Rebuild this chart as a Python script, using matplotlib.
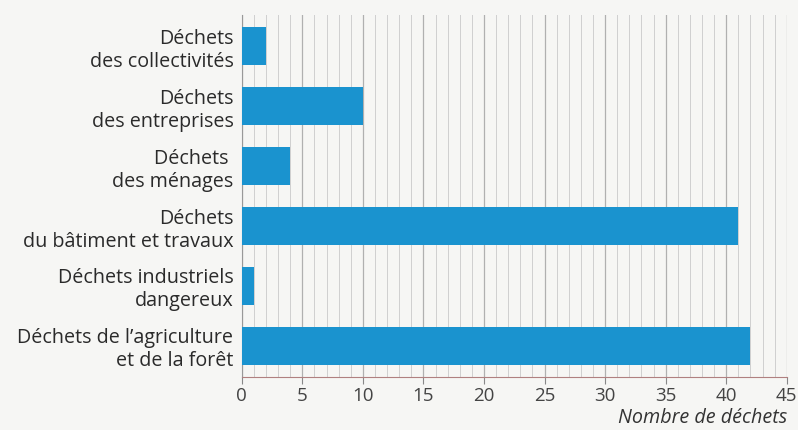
import matplotlib.pyplot as plt
from matplotlib.ticker import MultipleLocator

categories = ['Déchets\ndes collectivités', 'Déchets\ndes entreprises', 'Déchets \ndes ménages',
              'Déchets\ndu bâtiment et travaux', 'Déchets industriels\ndangereux',
              'Déchets de l\u2019agriculture\net de la forêt']
values = [2, 10, 4, 41, 1, 42]

plt.rcParams['font.family'] = ['Open Sans', 'DejaVu Sans']

fig = plt.figure(figsize=(7.98, 4.30), dpi=100)
fig.patch.set_facecolor('#f6f6f4')
ax = fig.add_axes([0.303, 0.123, 0.683, 0.842])
ax.set_facecolor('#f6f6f4')

ax.barh(range(len(categories)), values, height=0.63, color='#1a93cf', zorder=3)
ax.set_yticks(range(len(categories)))
ax.set_yticklabels(categories, fontsize=14.2, color='#2a2a2a', linespacing=1.2,
                   multialignment='right')
ax.set_ylim(5.52, -0.52)
ax.set_xlim(0, 45)
ax.xaxis.set_major_locator(MultipleLocator(5))
ax.xaxis.set_minor_locator(MultipleLocator(1))
ax.grid(axis='x', which='minor', color='#cfcfcf', linewidth=0.7, zorder=0)
ax.grid(axis='x', which='major', color='#b0b0b0', linewidth=0.9, zorder=0)
ax.tick_params(axis='y', length=0, pad=6)
ax.tick_params(axis='x', which='major', length=5, color='#888888', labelsize=13.5,
               labelcolor='#444444', pad=2)
ax.tick_params(axis='x', which='minor', length=0)
for s in ['top', 'right']:
    ax.spines[s].set_visible(False)
ax.spines['left'].set_color('#999999')
ax.spines['bottom'].set_color('#b08080')

fig.text(0.986, 0.005, 'Nombre de déchets', ha='right', va='bottom', fontsize=14.2,
         style='italic', color='#333333')

fig.savefig('out.png', dpi=100, facecolor=fig.get_facecolor())
